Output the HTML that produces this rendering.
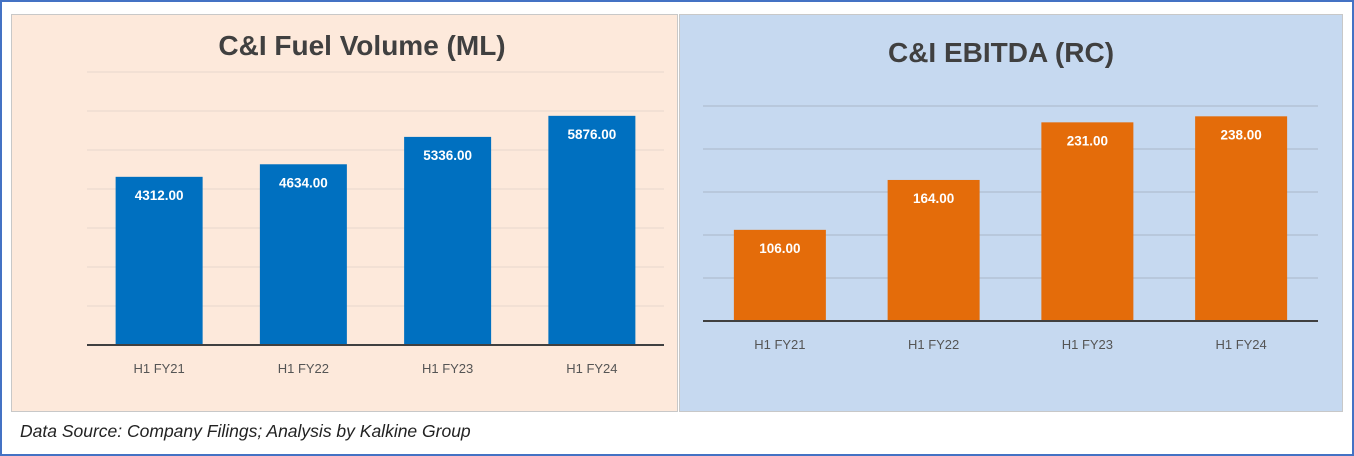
<!DOCTYPE html>
<html><head><meta charset="utf-8"><style>
body{margin:0;width:1354px;height:456px;overflow:hidden;background:#fff;font-family:"Liberation Sans",sans-serif}
#frame{position:absolute;left:0;top:0;width:1350px;height:452px;border:2px solid #4472c4}
.panel{position:absolute;border:1px solid #c8c8c8}
#foot{position:absolute;left:20px;top:421px;font-size:17.5px;font-style:italic;color:#222}
</style></head><body>
<div id="frame"></div>
<div class="panel" style="left:11px;top:14px;width:665px;height:396px;background:#fde9db"></div>
<div class="panel" style="left:679px;top:14px;width:662px;height:396px;background:#c6d9f0"></div>
<svg id="svg" width="1354" height="456" style="position:absolute;left:0;top:0"></svg>
<div id="foot">Data Source: Company Filings; Analysis by Kalkine Group</div>
<script>
const categories=["H1 FY21","H1 FY22","H1 FY23","H1 FY24"];
const fuelValues=[4312,4634,5336,5876];
const ebitdaValues=[106,164,231,238];
const fuelTicks=[0,1000,2000,3000,4000,5000,6000,7000];
const ebitdaTicks=[0,50,100,150,200,250];
const svg=document.getElementById('svg');
const NS='http://www.w3.org/2000/svg';
function mk(t,a){const e=document.createElementNS(NS,t);for(const k in a)e.setAttribute(k,a[k]);svg.appendChild(e);return e;}
function chart(cfg){
  const y=v=>cfg.base-(v/cfg.max)*(cfg.base-cfg.top);
  const step=(cfg.x1-cfg.x0)/categories.length;
  cfg.ticks.forEach(t=>{if(t===0)return;const l=mk('line',{x1:cfg.x0,x2:cfg.x1,y1:y(t),y2:y(t),stroke:cfg.grid,'stroke-width':1});
    
    });
  const tt=mk('text',{x:cfg.tx,y:cfg.ty,'text-anchor':'middle','font-size':28,'font-weight':'bold',fill:'#404040'});
  tt.textContent=cfg.title;
  
  
  cfg.vals.forEach((v,i)=>{
    const cx=cfg.x0+step*(i+0.5);
    const r=mk('rect',{x:cx-cfg.bw/2,y:y(v),width:cfg.bw,height:cfg.base-y(v),fill:cfg.color});
    
    
    const lb=mk('text',{x:cx,y:y(v)+23,'text-anchor':'middle','font-size':13.5,'font-weight':'bold',fill:'#fff'});
    lb.textContent=v.toFixed(2);
    
    
    const xl=mk('text',{x:cx,y:cfg.base+28,'text-anchor':'middle','font-size':13,fill:'#555'});
    xl.textContent=categories[i];
    
    
  });
  const ax=mk('line',{x1:cfg.x0,x2:cfg.x1,y1:cfg.base,y2:cfg.base,stroke:'#404040','stroke-width':2});
  
  
}
chart({name:'fuel',vals:fuelValues,ticks:fuelTicks,max:7000,base:345,top:72,x0:87,x1:664,bw:87,color:'#0070c0',grid:'#e6d8cc',title:'C&I Fuel Volume (ML)',tx:362,ty:55});
chart({name:'ebitda',vals:ebitdaValues,ticks:ebitdaTicks,max:250,base:321,top:106,x0:703,x1:1318,bw:92,color:'#e46c0a',grid:'#a9b7c8',title:'C&I EBITDA (RC)',tx:1001,ty:62});
</script>
</body></html>
